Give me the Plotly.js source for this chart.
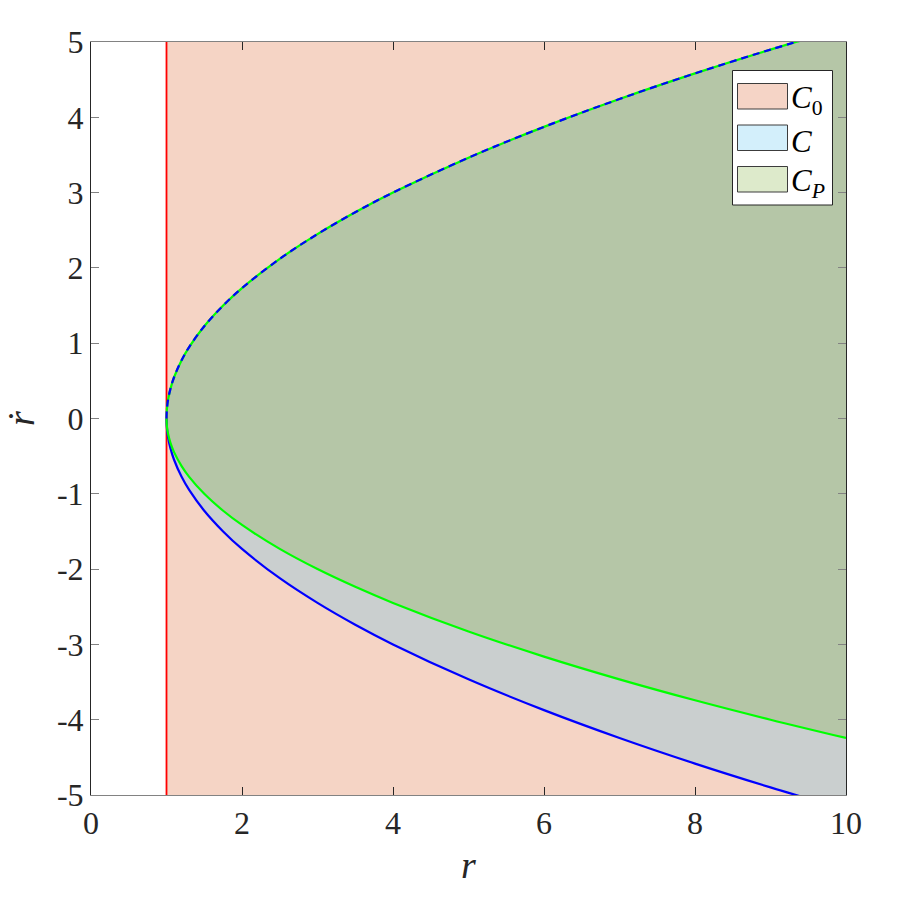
<!DOCTYPE html>
<html>
<head>
<meta charset="utf-8">
<script src="https://cdn.plot.ly/plotly-3.0.1.min.js"></script>
<style>html,body{margin:0;padding:0;background:#fff;}#chart{width:897px;height:897px;}</style>
</head>
<body>
<div id="chart"></div>
<script>
// ---- data ----
var r = [1, 1.005, 1.02, 1.05, 1.1, 1.2, 1.3, 1.5, 1.75, 2, 2.5, 3, 3.5, 4, 5, 6, 7, 8, 9, 10];
var upperBound = [0, 0.12, 0.245, 0.387, 0.548, 0.775, 0.949, 1.225, 1.5, 1.732, 2.121, 2.449, 2.739, 3.0, 3.464, 3.873, 4.243, 4.583, 4.899, 5.196];
var lowerC = [0, -0.12, -0.245, -0.387, -0.548, -0.775, -0.949, -1.225, -1.5, -1.732, -2.121, -2.449, -2.739, -3.0, -3.464, -3.873, -4.243, -4.583, -4.899, -5.196];
var lowerCP = [0, -0.1, -0.2, -0.316, -0.447, -0.632, -0.775, -1.0, -1.225, -1.414, -1.732, -2.0, -2.236, -2.449, -2.828, -3.162, -3.464, -3.742, -4.0, -4.243];
var rMin = 1;            // boundary of C0
var xRange = [0, 10];
var yRange = [-5, 5];
var xTicks = [0, 2, 4, 6, 8, 10];
var xTickText = ['0', '2', '4', '6', '8', '10'];
var yTicks = [-5, -4, -3, -2, -1, 0, 1, 2, 3, 4, 5];
var yTickText = ['-5', '-4', '-3', '-2', '-1', '0', '1', '2', '3', '4', '5'];
var legendNames = ['<i>C</i><sub>0</sub>', '<i>C</i>', '<i>C</i><sub><i>P</i></sub>'];

// ---- styles ----
var FONT = "'Liberation Serif', 'Times New Roman', Times, serif";
var cRed = 'rgba(217,83,25,0.25)';
var cBlue = 'rgba(77,190,238,0.25)';
var cGreen = 'rgba(119,172,48,0.25)';
var legendSolid = ['rgb(245,212,198)', 'rgb(211,239,251)', 'rgb(221,234,203)'];
var DARK = 'rgb(38,38,38)';
var GREY = 'rgb(130,130,130)';

var traces = [];
// C0 region
traces.push({x: [rMin, xRange[1], xRange[1], rMin], y: [yRange[0], yRange[0], yRange[1], yRange[1]],
  mode: 'lines', fill: 'toself', fillcolor: cRed, line: {width: 0}, hoverinfo: 'skip', showlegend: false});
// C region
traces.push({x: r, y: lowerC, mode: 'lines', line: {width: 0, shape: 'spline'}, showlegend: false, hoverinfo: 'skip'});
traces.push({x: r, y: upperBound, mode: 'lines', fill: 'tonexty', fillcolor: cBlue, line: {width: 0, shape: 'spline'}, showlegend: false, hoverinfo: 'skip'});
// C_P region
traces.push({x: r, y: lowerCP, mode: 'lines', line: {width: 0, shape: 'spline'}, showlegend: false, hoverinfo: 'skip'});
traces.push({x: r, y: upperBound, mode: 'lines', fill: 'tonexty', fillcolor: cGreen, line: {width: 0, shape: 'spline'}, showlegend: false, hoverinfo: 'skip'});
// boundary lines
traces.push({x: [rMin, rMin], y: yRange, mode: 'lines', line: {color: 'rgb(255,0,0)', width: 1.8}, showlegend: false});
traces.push({x: r, y: lowerC, mode: 'lines', line: {color: 'rgb(0,0,255)', width: 2.2, shape: 'spline'}, showlegend: false});
traces.push({x: r, y: lowerCP, mode: 'lines', line: {color: 'rgb(0,255,0)', width: 2.2, shape: 'spline'}, showlegend: false});
traces.push({x: r, y: upperBound, mode: 'lines', line: {color: 'rgb(0,255,0)', width: 2.2, shape: 'spline'}, showlegend: false});
traces.push({x: r, y: upperBound, mode: 'lines', line: {color: 'rgb(0,0,255)', width: 2.2, shape: 'spline', dash: '7px,5px'}, showlegend: false});

// ---- legend built from shapes + annotations (paper coords) ----
var L = 91, R = 846, T = 42, B = 795;
function px(x) { return (x - L) / (R - L); }
function py(y) { return (B - y) / (B - T); }
var shapes = [{type: 'rect', xref: 'paper', yref: 'paper', x0: px(732.5), x1: px(832.5), y0: py(205), y1: py(70.5),
  fillcolor: '#ffffff', line: {color: DARK, width: 1}, layer: 'above'}];
var patchY = [[83.5, 109], [125, 150.5], [166.5, 192]];
var annotations = [];
for (var i = 0; i < 3; i++) {
  shapes.push({type: 'rect', xref: 'paper', yref: 'paper', x0: px(737.5), x1: px(787.5), y0: py(patchY[i][1]), y1: py(patchY[i][0]),
    fillcolor: legendSolid[i], line: {color: 'rgb(60,60,60)', width: 1}, layer: 'above'});
  annotations.push({xref: 'paper', yref: 'paper', x: px(789), y: py((patchY[i][0] + patchY[i][1]) / 2 + 4),
    xanchor: 'left', yanchor: 'middle', showarrow: false, text: legendNames[i],
    font: {family: FONT, size: 31, color: '#000'}});
}

var axisCommon = {
  showgrid: false, zeroline: false, showline: true, linewidth: 1,
  mirror: 'ticks', ticks: 'inside', ticklen: 8, tickwidth: 1,
  tickmode: 'array', tickfont: {family: FONT, size: 32, color: DARK}
};
var layout = {
  width: 897, height: 897,
  margin: {l: L, r: 897 - R, t: T, b: 897 - B},
  paper_bgcolor: '#fff', plot_bgcolor: '#fff',
  showlegend: false,
  font: {family: FONT},
  xaxis: Object.assign({}, axisCommon, {range: xRange, tickvals: xTicks, ticktext: xTickText,
    linecolor: GREY, tickcolor: DARK,
    title: {text: '<i>r</i>', font: {family: FONT, size: 38, color: DARK}, standoff: 10}}),
  yaxis: Object.assign({}, axisCommon, {range: yRange, tickvals: yTicks, ticktext: yTickText,
    linecolor: DARK, tickcolor: GREY,
    title: {text: '<i>ṙ</i>', font: {family: FONT, size: 38, color: DARK}, standoff: 16}}),
  shapes: shapes,
  annotations: annotations
};
Plotly.newPlot('chart', traces, layout, {staticPlot: true, displayModeBar: false});
</script>
</body>
</html>
